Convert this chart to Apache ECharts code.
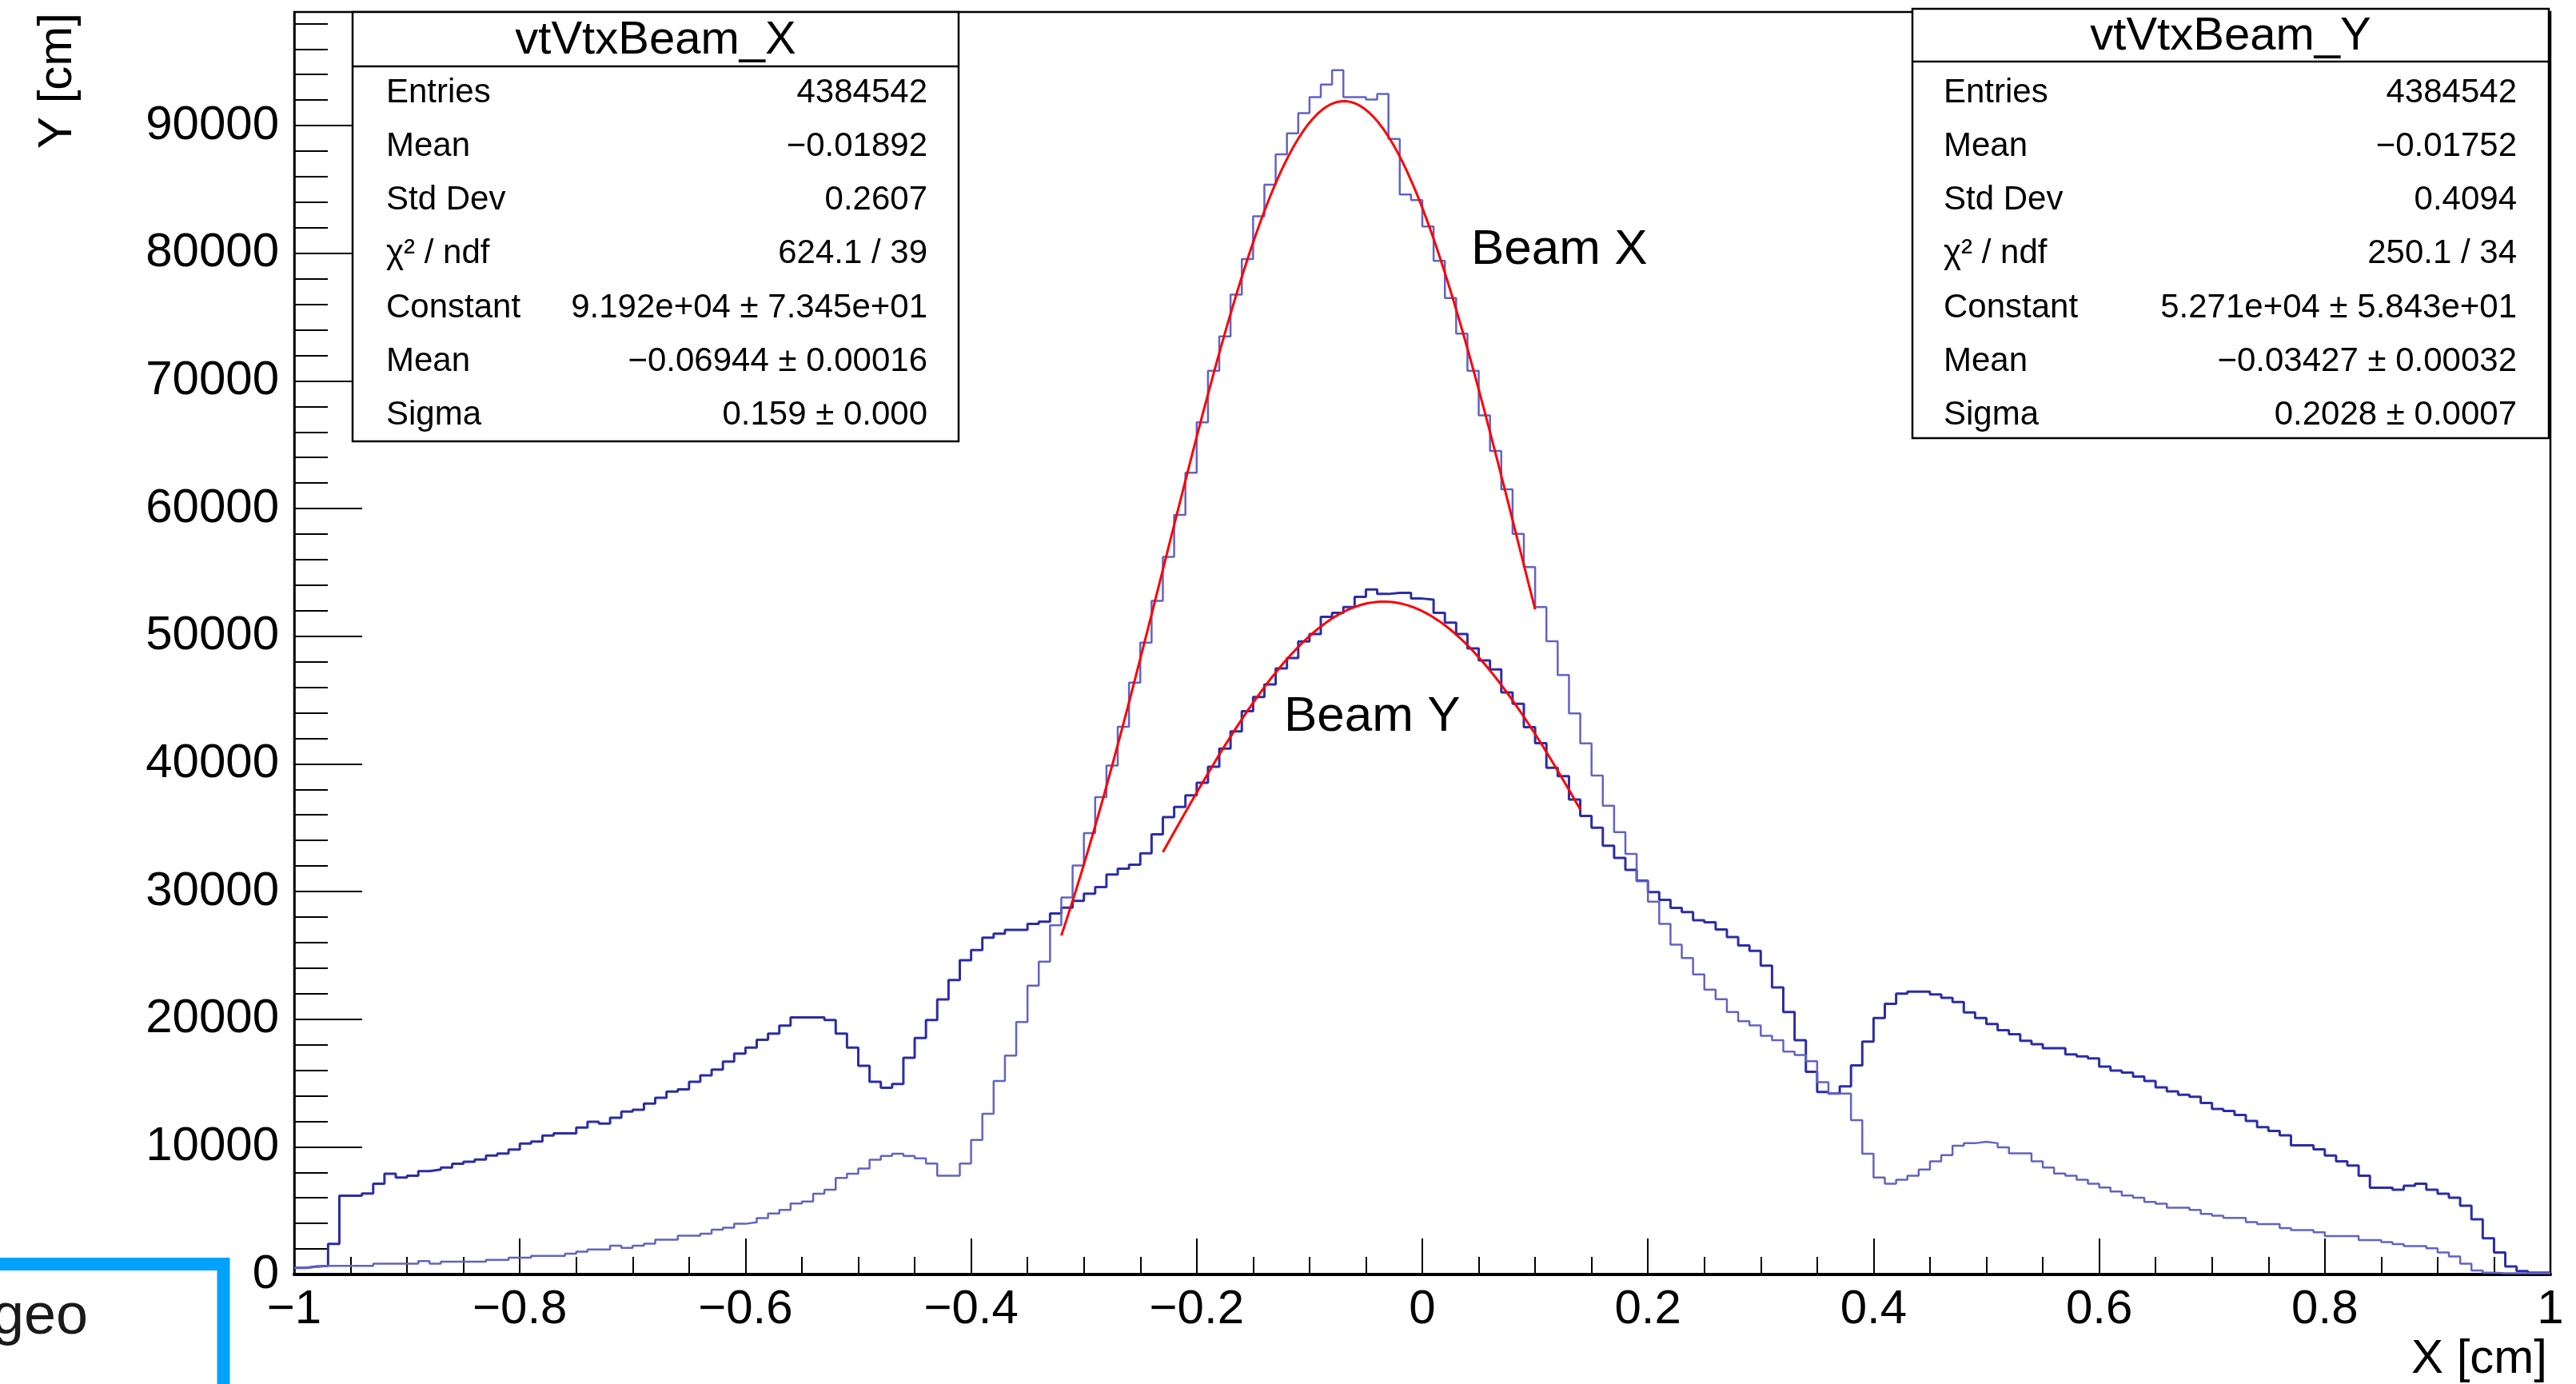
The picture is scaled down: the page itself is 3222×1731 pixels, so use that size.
<!DOCTYPE html>
<html>
<head>
<meta charset="utf-8">
<title>vtVtxBeam</title>
<script src="https://cdn.jsdelivr.net/npm/echarts@6/dist/echarts.min.js"></script>
<style>
  html, body { margin: 0; padding: 0; background: #fff; }
  #main { width: 3222px; height: 1731px; }
</style>
</head>
<body>
<div id="main"></div>
<script>
// 200 bins from -1 to 1
var binMin = -1;
var binWidth = 0.01;

var beamX = [
  520, 600, 670, 670, 670, 670, 670, 840, 840, 840,
  840, 1050, 840, 1000, 1000, 1000, 1000, 1150, 1150, 1320,
  1320, 1460, 1460, 1460, 1630, 1780, 1950, 1950, 2260, 2090,
  2260, 2410, 2720, 2720, 3030, 3030, 3200, 3510, 3660, 3970,
  4080, 4420, 4770, 5060, 5560, 5720, 6320, 6640, 7570, 7890,
  8300, 8990, 9280, 9450, 9280, 9100, 8690, 7730, 7730, 8690,
  10540, 12590, 15150, 17140, 19780, 22620, 24510, 27360, 29530, 32040,
  34570, 37390, 39860, 42910, 46360, 49500, 52770, 56220, 59500, 62810,
  66760, 70800, 73480, 76760, 79540, 82900, 85370, 87750, 89400, 90970,
  92230, 93210, 94340, 92230, 92230, 92040, 92480, 88950, 84610, 84160,
  82100, 79400, 76490, 73710, 70800, 67300, 64520, 61510, 58020, 55420,
  52290, 49610, 46960, 43960, 41600, 39080, 36720, 34650, 32950, 30800,
  29200, 27470, 25840, 24780, 23500, 22310, 21560, 20560, 19840, 19510,
  18690, 18350, 17460, 17200, 16710, 15060, 14170, 14170, 12090, 9450,
  7600, 7110, 7430, 7740, 8220, 8860, 9350, 10080, 10280, 10400,
  10280, 9960, 9490, 9490, 8860, 8370, 7910, 7740, 7430, 7110,
  6810, 6500, 6180, 6010, 5690, 5550, 5230, 5230, 5060, 4750,
  4600, 4430, 4430, 4110, 3940, 3940, 3630, 3480, 3480, 3310,
  3010, 3010, 3010, 2700, 2700, 2530, 2380, 2220, 2220, 2050,
  1730, 1410, 840, 310, 140, 100, 100, 100, 100, 100
];

var beamY = [
  520, 630, 670, 2400, 6170, 6170, 6340, 7110, 7890, 7590,
  7740, 8100, 8220, 8370, 8680, 8830, 9000, 9310, 9480, 9790,
  10250, 10420, 10880, 11050, 11050, 11510, 11970, 11820, 12280, 12760,
  12910, 13390, 13850, 14330, 14500, 15100, 15590, 16050, 16670, 17300,
  17780, 18390, 18870, 19490, 20130, 20130, 20130, 19940, 18870, 17780,
  16340, 15100, 14630, 14920, 16980, 18530, 19940, 21540, 23070, 24620,
  25420, 26380, 26700, 27000, 27000, 27470, 27640, 28280, 28730, 29260,
  29830, 30350, 31340, 31790, 32100, 33000, 34480, 35820, 36630, 37530,
  38520, 39770, 41200, 42550, 44120, 45240, 46220, 47480, 48290, 49590,
  50170, 51520, 51830, 52280, 53080, 53670, 53310, 53400, 53400, 52950,
  52860, 51830, 51070, 50170, 49050, 48100, 47400, 45600, 44700, 42880,
  41620, 39700, 39030, 37200, 35920, 34990, 33590, 32640, 31690, 30840,
  29950, 29350, 28720, 28390, 27750, 27590, 27020, 26430, 25770, 25350,
  24190, 22480, 20560, 18350, 15880, 14300, 14170, 14730, 16380, 18250,
  20090, 21200, 22000, 22150, 22150, 21940, 21670, 21350, 20530, 20090,
  19620, 19130, 18820, 18310, 18040, 17720, 17720, 17240, 17090, 16920,
  16290, 15970, 15820, 15500, 15150, 14660, 14340, 14070, 13920, 13440,
  12970, 12810, 12490, 12030, 11540, 11240, 10900, 10120, 10120, 9810,
  9320, 8860, 8540, 7740, 6790, 6790, 6640, 6960, 7110, 6640,
  6330, 6010, 5380, 4320, 2840, 1730, 630, 270, 140, 140
];

// gaus fit results from the stat boxes: constant, mean, sigma, fit from, fit to
var fitX = [91920, -0.06944, 0.159, -0.32, 0.10];
var fitY = [52710, -0.03427, 0.2028, -0.23, 0.14];

var statLabels = ['Entries', 'Mean', 'Std Dev', 'χ² / ndf', 'Constant', 'Mean', 'Sigma'];
var statsX = ['4384542', '\u22120.01892', '0.2607', '624.1 / 39', '9.192e+04 ± 7.345e+01', '\u22120.06944 ± 0.00016', '0.159 ± 0.000'];
var statsY = ['4384542', '\u22120.01752', '0.4094', '250.1 / 34', '5.271e+04 ± 5.843e+01', '\u22120.03427 ± 0.00032', '0.2028 ± 0.0007'];

var FONT = '"Liberation Sans", Arial, Helvetica, sans-serif';

function histPoints(vals) {
    var pts = [];
    for (var i = 0; i < vals.length; i++) {
        pts.push([binMin + i * binWidth, vals[i]]);
    }
    pts.push([binMin + vals.length * binWidth, vals[vals.length - 1]]);
    return pts;
}

function gausPoints(p) {
    var pts = [];
    var n = 100;
    for (var i = 0; i <= n; i++) {
        var x = p[3] + (p[4] - p[3]) * i / n;
        pts.push([x, p[0] * Math.exp(-0.5 * Math.pow((x - p[1]) / p[2], 2))]);
    }
    return pts;
}

function txt(x, y, s, size, align, extra) {
    var el = {
        type: 'text', x: x, y: y, z: 60,
        style: {
            text: s, fontSize: size, fontFamily: FONT, fill: '#000',
            align: align, textAlign: align,
            verticalAlign: 'middle', textVerticalAlign: 'middle'
        }
    };
    if (extra) {
        for (var k in extra) el[k] = extra[k];
    }
    return el;
}

function statBox(x0, y0, x1, y1, titleY, title, values, leftX, rightX) {
    var els = [];
    els.push({
        type: 'rect', z: 50,
        shape: { x: x0, y: y0, width: x1 - x0, height: y1 - y0 },
        style: { fill: '#fff', stroke: '#000', lineWidth: 2.5 }
    });
    els.push({
        type: 'line', z: 55,
        shape: { x1: x0, y1: titleY, x2: x1, y2: titleY },
        style: { stroke: '#000', lineWidth: 2.5 }
    });
    els.push(txt((x0 + x1) / 2, (y0 + titleY) / 2 + 2, title, 58, 'center'));
    for (var i = 0; i < statLabels.length; i++) {
        var ry = 116 + i * 67.3;
        els.push(txt(leftX, ry, statLabels[i], 42, 'left'));
        els.push(txt(rightX, ry, values[i], 42, 'right'));
    }
    return els;
}

var chart = echarts.init(document.getElementById('main'));

var xLabel = function (v) {
    return String(+v.toFixed(2)).replace('-', '\u2212');
};
var yLabel = function (v) {
    return String(Math.round(v));
};

var graphics = []
    .concat(statBox(441, 15, 1199, 552, 83, 'vtVtxBeam_X', statsX, 483, 1160))
    .concat(statBox(2392, 11, 3188, 548, 77, 'vtVtxBeam_Y', statsY, 2431, 3148))
    .concat([
        txt(1840, 313, 'Beam X', 62, 'left'),
        txt(1606, 897, 'Beam Y', 62, 'left'),
        txt(3186, 1700, 'X [cm]', 60, 'right'),
        txt(72, 16, 'Y [cm]', 60, 'right', { rotation: Math.PI / 2 }),
        {
            type: 'rect', z: 60,
            shape: { x: -60, y: 1581, width: 339.5, height: 400 },
            style: { fill: 'none', stroke: '#00a2ff', lineWidth: 16 }
        },
        {
            type: 'text', x: -10, y: 1648, z: 60,
            style: {
                text: 'geo', fontSize: 72, fontFamily: FONT, fill: '#1a1a1a',
                align: 'left', textAlign: 'left',
                verticalAlign: 'middle', textVerticalAlign: 'middle'
            }
        }
    ]);

var option = {
    animation: false,
    backgroundColor: '#fff',
    textStyle: { fontFamily: FONT },
    grid: {
        left: 368, right: 32, top: 15, bottom: 137,
        show: true, borderColor: '#000', borderWidth: 2.5,
        backgroundColor: 'transparent'
    },
    xAxis: {
        type: 'value', min: -1, max: 1, interval: 0.2,
        axisLine: { onZero: false, lineStyle: { color: '#000', width: 4 } },
        axisTick: { inside: true, length: 45, lineStyle: { color: '#000', width: 2 } },
        minorTick: { show: true, splitNumber: 4, length: 22, lineStyle: { color: '#000', width: 2 } },
        splitLine: { show: false },
        axisLabel: {
            fontSize: 60, color: '#000', margin: 14,
            showMinLabel: true, showMaxLabel: true,
            formatter: xLabel
        }
    },
    yAxis: [{
        type: 'value', min: 0, max: 98900, interval: 10000,
        axisLine: { onZero: false, lineStyle: { color: '#000', width: 2.5 } },
        axisTick: { inside: true, length: 85, lineStyle: { color: '#000', width: 2 } },
        splitLine: { show: false },
        axisLabel: { fontSize: 60, color: '#000', margin: 19, showMaxLabel: false, formatter: yLabel }
    }, {
        // secondary ticks every 2000
        type: 'value', min: 0, max: 98900, interval: 2000, position: 'left',
        axisLine: { show: false, onZero: false },
        axisTick: { inside: true, length: 42, lineStyle: { color: '#000', width: 2 } },
        splitLine: { show: false },
        axisLabel: { show: false }
    }],
    series: [{
        name: 'vtVtxBeam_Y',
        type: 'line', step: 'end', showSymbol: false, z: 3,
        lineStyle: { color: '#2c2ca8', width: 3 },
        data: histPoints(beamY)
    }, {
        name: 'vtVtxBeam_X',
        type: 'line', step: 'end', showSymbol: false, z: 3,
        lineStyle: { color: '#6262c8', width: 2.5 },
        data: histPoints(beamX)
    }, {
        name: 'fit X',
        type: 'line', showSymbol: false, z: 4,
        lineStyle: { color: '#ff0000', width: 3 },
        data: gausPoints(fitX)
    }, {
        name: 'fit Y',
        type: 'line', showSymbol: false, z: 4,
        lineStyle: { color: '#ff0000', width: 3 },
        data: gausPoints(fitY)
    }],
    graphic: { elements: graphics }
};
chart.setOption(option);

window.addEventListener('resize', function () {
    chart.resize();
});
</script>
</body>
</html>
